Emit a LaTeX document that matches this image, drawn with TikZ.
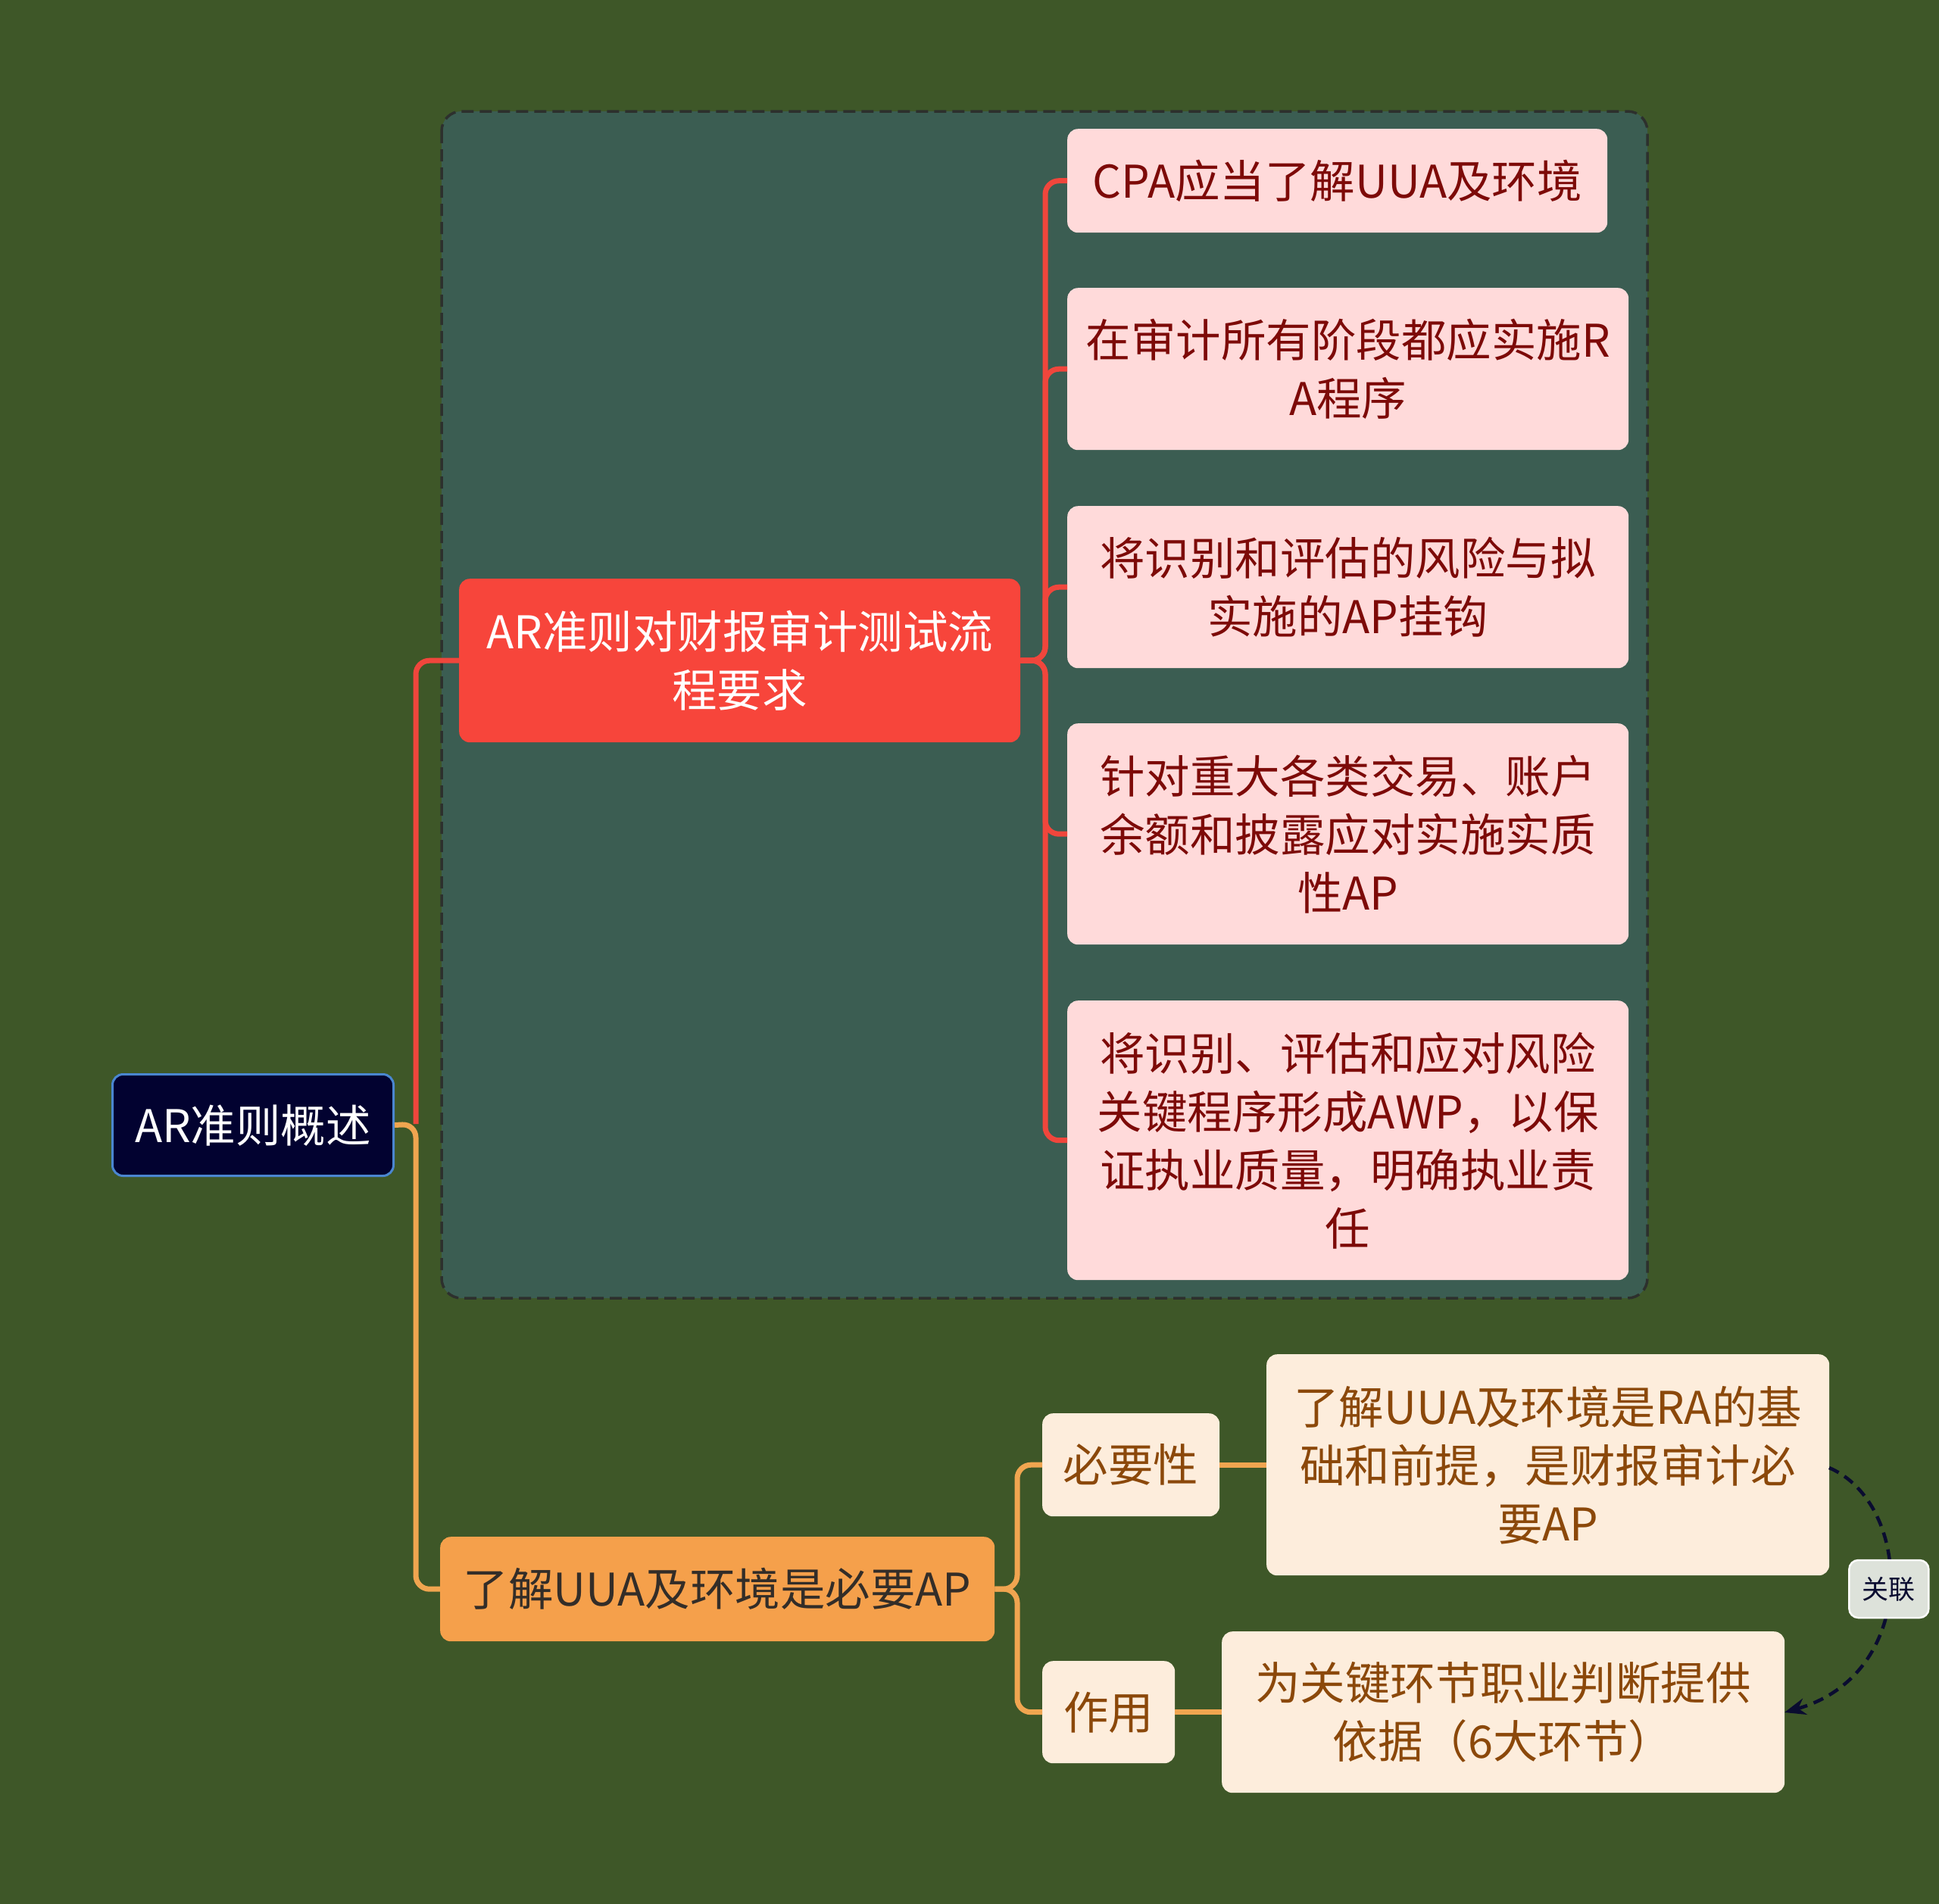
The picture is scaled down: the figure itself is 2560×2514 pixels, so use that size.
\documentclass[tikz,border=0pt]{standalone}
\usepackage{fontspec}
\setmainfont{Noto Sans CJK SC}
\usetikzlibrary{arrows.meta}
\definecolor{bgc}{RGB}{62,87,40}
\definecolor{grpc}{RGB}{59,93,82}
\definecolor{grpline}{RGB}{45,48,45}
\definecolor{rootfill}{RGB}{2,2,48}
\definecolor{rootline}{RGB}{74,134,208}
\definecolor{redfill}{RGB}{247,69,59}
\definecolor{pinkfill}{RGB}{255,218,218}
\definecolor{pinktext}{RGB}{125,10,8}
\definecolor{orfill}{RGB}{245,160,75}
\definecolor{ortext}{RGB}{51,45,40}
\definecolor{creamfill}{RGB}{253,237,220}
\definecolor{creamtext}{RGB}{139,72,10}
\definecolor{relfill}{RGB}{221,226,218}
\definecolor{relline}{RGB}{10,12,48}
\definecolor{redline}{RGB}{240,70,60}
\definecolor{orline}{RGB}{240,165,80}
\tikzset{
  box/.style={anchor=north west, rounded corners=14pt, align=center, inner sep=0pt,
    font=\fontsize{59.5}{77}\selectfont},
  rootbox/.style={box, fill=rootfill, draw=rootline, line width=3pt, text=white},
  redbox/.style={box, fill=redfill, text=white},
  pinkbox/.style={box, fill=pinkfill, text=pinktext},
  orbox/.style={box, fill=orfill, text=ortext},
  creambox/.style={box, fill=creamfill, text=creamtext},
  relbox/.style={solid, rounded corners=12pt, fill=relfill, draw=white!90!relfill, line width=2.5pt,
    text=relline, font=\fontsize{35}{40}\selectfont, minimum width=105pt, minimum height=76pt, inner sep=0pt},
  redconn/.style={draw=redline, line width=7pt, rounded corners=18pt},
  orconn/.style={draw=orline, line width=7pt, rounded corners=18pt},
  relconn/.style={draw=relline, line width=4.5pt, dash pattern=on 14pt off 9pt, -{Stealth[length=28pt,width=22pt]}},
}
\begin{document}
\begin{tikzpicture}[x=1pt,y=-1pt]
\fill[bgc] (0,0) rectangle (2560,2514);
\useasboundingbox (0,0) rectangle (2560,2514);
% group box
\draw[fill=grpc, draw=grpline, line width=3.5pt, dash pattern=on 16pt off 8pt, rounded corners=26pt]
  (583,147) rectangle (2175,1714);
% nodes
\node[rootbox, minimum width=371pt, minimum height=134pt] (root) at (147,1417) {AR准则概述};
\node[redbox, minimum width=741pt, minimum height=216pt] (red) at (606,764) {AR准则对财报审计测试流\\程要求};
\node[pinkbox, minimum width=713pt, minimum height=137pt] (l1) at (1409,170) {CPA应当了解UUA及环境};
\node[pinkbox, minimum width=741pt, minimum height=214pt] (l2) at (1409,380) {在审计所有阶段都应实施R\\A程序};
\node[pinkbox, minimum width=741pt, minimum height=214pt] (l3) at (1409,668) {将识别和评估的风险与拟\\实施的AP挂钩};
\node[pinkbox, minimum width=741pt, minimum height=292pt] (l4) at (1409,955) {针对重大各类交易、账户\\余额和披露应对实施实质\\性AP};
\node[pinkbox, minimum width=741pt, minimum height=369pt] (l5) at (1409,1321) {将识别、评估和应对风险\\关键程序形成AWP，以保\\证执业质量，明确执业责\\任};
\node[orbox, minimum width=732pt, minimum height=138pt] (orn) at (581,2029) {了解UUA及环境是必要AP};
\node[creambox, minimum width=234pt, minimum height=136pt] (nec) at (1376,1866) {必要性};
\node[creambox, minimum width=175pt, minimum height=135pt] (use) at (1376,2193) {作用};
\node[creambox, minimum width=743pt, minimum height=292pt] (la) at (1672,1788) {了解UUA及环境是RA的基\\础和前提，是财报审计必\\要AP};
\node[creambox, minimum width=743pt, minimum height=213pt] (lb) at (1613,2154) {为关键环节职业判断提供\\依据（6大环节）};
% junctions
\coordinate (j1) at (549,1484);
\coordinate (j2) at (1380,872);
\coordinate (j3) at (1343,2098);
% connectors
\draw[redconn] (j1) |- (red.west);
\draw[orconn] (root.east) -- (j1) |- (orn.west);
\foreach \n in {l1,l2,l3,l4,l5} { \draw[redconn] (red.east) -- (j2) |- (\n.west); }
\draw[orconn] (orn.east) -- (j3) |- (nec.west);
\draw[orconn] (orn.east) -- (j3) |- (use.west);
\draw[orconn, rounded corners=0pt] (nec.east) -- (la.west |- nec.east);
\draw[orconn, rounded corners=0pt] (use.east) -- (lb.west |- use.east);
% relation
\coordinate (ra) at (2415,1938);
\coordinate (rb) at (2356,2261);
\draw[relconn] (ra) .. controls (2525,1985) and (2535,2210) .. (rb)
  node[relbox, pos=0.5] (rel) {关联};
\end{tikzpicture}
\end{document}
